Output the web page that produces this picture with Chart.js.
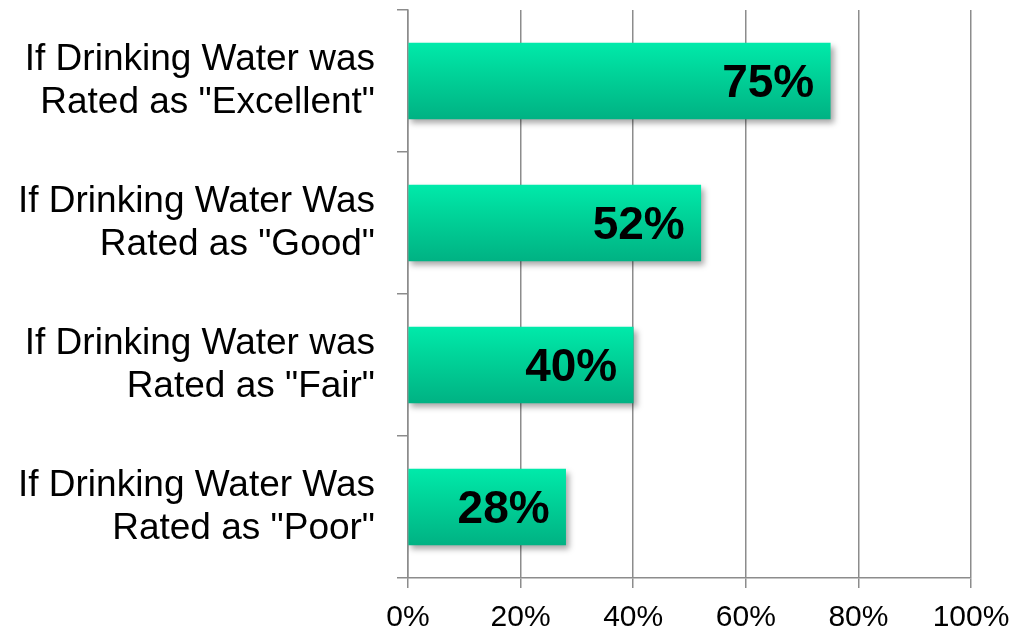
<!DOCTYPE html>
<html>
<head>
<meta charset="utf-8">
<script src="https://cdn.jsdelivr.net/npm/chart.js@4"></script>
<style>
  html, body { margin: 0; padding: 0; background: #fff; }
  #wrap { width: 1029px; height: 636px; }
</style>
</head>
<body>
<div id="wrap"><canvas id="waterChart" width="1029" height="636"></canvas></div>
<script>
// Dados do gráfico
const categorias = [
  ['If Drinking Water was', 'Rated as "Excellent"'],
  ['If Drinking Water Was', 'Rated as "Good"'],
  ['If Drinking Water was', 'Rated as "Fair"'],
  ['If Drinking Water Was', 'Rated as "Poor"']
];
const valores = [75, 52, 40, 28];
const ticksX = [0, 20, 40, 60, 80, 100];

const fonte = "'Liberation Sans', Arial, sans-serif";
const corGrade = '#8c8c8c';
const espessuraBarra = 76;

// sombra das barras
const sombraBarras = {
  id: 'sombraBarras',
  beforeDatasetsDraw(chart) {
    const ctx = chart.ctx;
    ctx.save();
    ctx.shadowColor = 'rgba(0,0,0,0.35)';
    ctx.shadowBlur = 6;
    ctx.shadowOffsetX = 3;
    ctx.shadowOffsetY = 4;
  },
  afterDatasetsDraw(chart) {
    chart.ctx.restore();
  }
};

// rótulos de valor dentro das barras
const rotulosValor = {
  id: 'rotulosValor',
  afterDatasetsDraw(chart) {
    const ctx = chart.ctx;
    const meta = chart.getDatasetMeta(0);
    ctx.save();
    ctx.font = 'bold 46px ' + fonte;
    ctx.fillStyle = '#000';
    ctx.textAlign = 'right';
    ctx.textBaseline = 'middle';
    meta.data.forEach((bar, i) => {
      ctx.fillText(valores[i] + '%', bar.x - 16, bar.y + 3);
    });
    ctx.restore();
  }
};

function gradienteBarra(context) {
  const chart = context.chart;
  const y = chart.scales.y;
  if (!chart.chartArea || !y) return '#00d39a';
  const centro = y.getPixelForValue(context.dataIndex);
  const g = chart.ctx.createLinearGradient(0, centro - espessuraBarra / 2, 0, centro + espessuraBarra / 2);
  g.addColorStop(0, '#00eaaa');
  g.addColorStop(0.35, '#00d69b');
  g.addColorStop(1, '#00b283');
  return g;
}

new Chart(document.getElementById('waterChart'), {
  type: 'bar',
  data: {
    labels: categorias,
    datasets: [{
      data: valores,
      backgroundColor: gradienteBarra,
      borderWidth: 0,
      barThickness: espessuraBarra
    }]
  },
  options: {
    indexAxis: 'y',
    responsive: false,
    animation: false,
    layout: { padding: { top: 10, right: 58, bottom: 0, left: 0 } },
    plugins: {
      legend: { display: false },
      tooltip: { enabled: false }
    },
    scales: {
      x: {
        min: 0,
        max: 100,
        afterBuildTicks: s => { s.ticks = ticksX.map(v => ({ value: v })); },
        afterFit: s => { s.height = 58; },
        ticks: {
          callback: v => v + '%',
          color: '#000',
          font: { family: fonte, size: 30 },
          padding: 12,
          maxRotation: 0
        },
        grid: { color: corGrade, lineWidth: 1.5, tickLength: 10 },
        border: { color: corGrade, width: 1.5 }
      },
      y: {
        afterFit: s => {
          s.width = 408;
          s.paddingTop = 0;
          s.paddingBottom = 0;
        },
        ticks: {
          color: '#000',
          font: { family: fonte, size: 37, lineHeight: 1.16 },
          padding: 22
        },
        grid: {
          offset: true,
          drawOnChartArea: false,
          color: corGrade,
          lineWidth: 1.5,
          tickLength: 11
        },
        border: { color: corGrade, width: 1.5 }
      }
    }
  },
  plugins: [sombraBarras, rotulosValor]
});
</script>
</body>
</html>
